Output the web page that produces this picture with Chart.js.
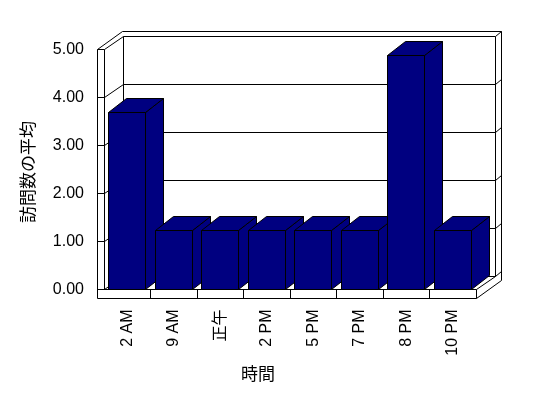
<!DOCTYPE html>
<html>
<head>
<meta charset="utf-8">
<script src="https://cdn.jsdelivr.net/npm/chart.js@4"></script>
<style>
  html, body { margin: 0; padding: 0; background: #fff; }
  canvas { display: block; }
</style>
</head>
<body>
<canvas id="chart" width="548" height="398"></canvas>
<script>
const jikan = ["2 AM", "9 AM", "正午", "2 PM", "5 PM", "7 PM", "8 PM", "10 PM"];
const heikin = [3.69, 1.23, 1.23, 1.23, 1.23, 1.23, 4.88, 1.23];
const yTicks = [0, 1, 2, 3, 4, 5];
const yTitle = "訪問数の平均";
const xTitle = "時間";

// 3D look: depth of the plot box, depth of the bars, wall thickness
const DX = 19, DY = -13;
const BX = 18, BY = -14;
const WALL = 7, FLOOR = 9, BACK_X = 6, BACK_Y = -5;
const NAVY = "#000080";
const FONT = '"Liberation Sans", "Noto Sans CJK JP", sans-serif';

const fl = (v) => Math.floor(v) + 0.5;

function poly(ctx, pts, fill) {
  ctx.beginPath();
  pts.forEach(([px, py], i) => (i ? ctx.lineTo(px, py) : ctx.moveTo(px, py)));
  ctx.closePath();
  if (fill) {
    ctx.fillStyle = fill;
    ctx.fill();
  }
  ctx.stroke();
}

function seg(ctx, x1, y1, x2, y2) {
  ctx.beginPath();
  ctx.moveTo(x1, y1);
  ctx.lineTo(x2, y2);
  ctx.stroke();
}

const kabe = {
  id: "kabe",
  beforeDatasetsDraw(chart) {
    const { ctx, chartArea: ca, scales } = chart;
    const L = fl(ca.left), R = fl(ca.right), T = fl(ca.top), B = fl(ca.bottom);
    ctx.save();
    ctx.strokeStyle = "#000";
    ctx.lineWidth = 1;

    // outer silhouette of walls + floor
    poly(ctx, [
      [L - WALL, B + FLOOR],
      [L - WALL, T],
      [L - WALL + DX + BACK_X, T + DY + BACK_Y],
      [R + DX + BACK_X, T + DY + BACK_Y],
      [R + DX + BACK_X, B + DY + BACK_Y + FLOOR],
      [R, B + FLOOR],
    ], "#fff");

    // left wall
    seg(ctx, L, T, L, B);
    seg(ctx, L, T, L + DX, T + DY);
    // back wall
    seg(ctx, L + DX, T + DY, R + DX, T + DY);
    seg(ctx, L + DX, T + DY, L + DX, B + DY);
    seg(ctx, R + DX, T + DY, R + DX, B + DY);
    seg(ctx, R + DX, T + DY, R + DX + BACK_X, T + DY + BACK_Y);
    // floor
    seg(ctx, L - WALL, B, R, B);
    seg(ctx, L, B, L + DX, B + DY);
    seg(ctx, L + DX, B + DY, R + DX, B + DY);
    seg(ctx, R, B, R + DX, B + DY);
    seg(ctx, R, B, R, B + FLOOR);
    seg(ctx, R + DX, B + DY, R + DX + BACK_X, B + DY + BACK_Y);

    // gridlines
    yTicks.forEach((v) => {
      const gy = fl(scales.y.getPixelForValue(v));
      seg(ctx, L - WALL, gy, L, gy);
      if (v > 0 && v < yTicks[yTicks.length - 1]) {
        seg(ctx, L, gy, L + DX, gy + DY);
        seg(ctx, L + DX, gy + DY, R + DX, gy + DY);
        seg(ctx, R + DX, gy + DY, R + DX + BACK_X, gy + DY + BACK_Y);
      }
    });

    // category ticks on the floor front
    for (let i = 0; i < jikan.length - 1; i++) {
      const cx = fl((scales.x.getPixelForValue(i) + scales.x.getPixelForValue(i + 1)) / 2);
      seg(ctx, cx, B, cx, B + FLOOR);
    }
    ctx.restore();
  },
  afterDatasetsDraw(chart) {
    const { ctx } = chart;
    ctx.save();
    ctx.strokeStyle = "#000";
    ctx.lineWidth = 1;
    chart.getDatasetMeta(0).data.forEach((bar) => {
      const { x, y, base, width } = bar.getProps(["x", "y", "base", "width"], true);
      const l = fl(x - width / 2), r = fl(x + width / 2), t = fl(y), b = fl(base);
      poly(ctx, [[r, t], [r + BX, t + BY], [r + BX, b + BY], [r, b]], NAVY);
      poly(ctx, [[l, t], [l + BX, t + BY], [r + BX, t + BY], [r, t]], NAVY);
      poly(ctx, [[l, t], [r, t], [r, b], [l, b]], NAVY);
    });
    ctx.restore();
  },
  afterDraw(chart) {
    const { ctx } = chart;
    ctx.save();
    ctx.fillStyle = "#000";
    ctx.font = "17px " + FONT;
    ctx.textAlign = "center";
    ctx.textBaseline = "middle";
    ctx.fillText(xTitle, 258, 375);
    ctx.translate(29, 172);
    ctx.rotate(-Math.PI / 2);
    ctx.fillText(yTitle, 0, 0);
    ctx.restore();
  },
};

new Chart(document.getElementById("chart"), {
  type: "bar",
  data: {
    labels: jikan,
    datasets: [
      {
        data: heikin,
        backgroundColor: NAVY,
        borderColor: "#000",
        borderWidth: 1,
        categoryPercentage: 0.8,
        barPercentage: 1,
      },
    ],
  },
  options: {
    responsive: false,
    animation: false,
    layout: { padding: { top: 49.5, right: 72, left: 0, bottom: 0 } },
    plugins: {
      legend: { display: false },
      tooltip: { enabled: false },
    },
    scales: {
      x: {
        grid: { display: false },
        border: { display: false },
        ticks: {
          autoSkip: false,
          minRotation: 90,
          maxRotation: 90,
          padding: 12,
          color: "#000",
          font: { family: FONT, size: 16 },
        },
        afterFit: (s) => { s.height = 108.5; },
      },
      y: {
        min: 0,
        max: 5,
        grid: { display: false },
        border: { display: false },
        ticks: {
          padding: 12,
          color: "#000",
          font: { family: FONT, size: 16 },
          callback: (v) => v.toFixed(2),
        },
        afterBuildTicks: (s) => { s.ticks = yTicks.map((v) => ({ value: v })); },
        afterFit: (s) => { s.width = 104; },
      },
    },
  },
  plugins: [kabe],
});
</script>
</body>
</html>
